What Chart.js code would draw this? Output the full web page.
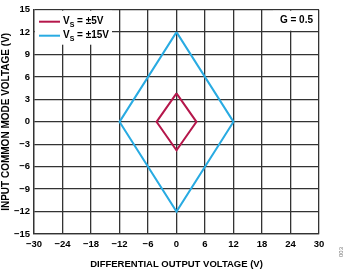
<!DOCTYPE html>
<html>
<head>
<meta charset="utf-8">
<script src="https://cdn.jsdelivr.net/npm/chart.js@4/dist/chart.umd.min.js"></script>
<style>
  body { margin: 0; background: #fff; }
  canvas { display: block; }
</style>
</head>
<body>
<canvas id="chart" width="346" height="270"></canvas>
<script>
// diamond corners, closed back to the first point
const vs5X = [0, 4.2, 0, -4.2, 0];
const vs5Y = [3.8, 0, -3.8, 0, 3.8];
const vs15X = [0, 12, 0, -12, 0];
const vs15Y = [12, 0, -12, 0, 12];
const xTicks = [-30, -24, -18, -12, -6, 0, 6, 12, 18, 24, 30];
const yTicks = [-15, -12, -9, -6, -3, 0, 3, 6, 9, 12, 15];

const font = "'Liberation Sans', Arial, sans-serif";
const fmt = (v) => (v < 0 ? "\u2212" + Math.abs(v) : String(v));
const toPoints = (xs, ys) => xs.map((x, i) => ({ x: x, y: ys[i] }));

const overlay = {
  id: "overlay",
  afterDraw(chart) {
    const ctx = chart.ctx;
    const a = chart.chartArea;
    ctx.save();
    // legend box
    ctx.fillStyle = "#fff";
    ctx.fillRect(a.left + 1, a.top + 1, 77, 34);
    const items = [
      { color: "#b5174b", sub: "S", rest: " = \u00b15V" },
      { color: "#29abe2", sub: "S", rest: " = \u00b115V" }
    ];
    items.forEach((it, i) => {
      const y = a.top + 12 + i * 14;
      ctx.strokeStyle = it.color;
      ctx.lineWidth = 2;
      ctx.beginPath();
      ctx.moveTo(a.left + 5, y);
      ctx.lineTo(a.left + 26, y);
      ctx.stroke();
      ctx.fillStyle = "#000";
      ctx.textBaseline = "middle";
      ctx.textAlign = "left";
      ctx.font = "bold 10px " + font;
      let x = a.left + 29;
      ctx.fillText("V", x, y);
      x += ctx.measureText("V").width;
      ctx.font = "bold 7px " + font;
      ctx.fillText(it.sub, x, y + 3);
      x += ctx.measureText(it.sub).width;
      ctx.font = "bold 10px " + font;
      ctx.fillText(it.rest, x, y);
    });
    // gain label
    ctx.fillStyle = "#fff";
    ctx.fillRect(a.right - 46, a.top + 1, 45, 20);
    ctx.fillStyle = "#000";
    ctx.font = "bold 10px " + font;
    ctx.textAlign = "right";
    ctx.fillText("G = 0.5", a.right - 6, a.top + 11);
    // figure number
    ctx.translate(341, 252);
    ctx.rotate(-Math.PI / 2);
    ctx.fillStyle = "#777";
    ctx.font = "6px " + font;
    ctx.textAlign = "center";
    ctx.fillText("003", 0, 0);
    ctx.restore();
  }
};

new Chart(document.getElementById("chart"), {
  type: "scatter",
  data: {
    datasets: [
      {
        label: "VS = ±5V",
        data: toPoints(vs5X, vs5Y),
        showLine: true,
        borderColor: "#b5174b",
        borderWidth: 2,
        pointRadius: 0,
        tension: 0
      },
      {
        label: "VS = ±15V",
        data: toPoints(vs15X, vs15Y),
        showLine: true,
        borderColor: "#29abe2",
        borderWidth: 2,
        pointRadius: 0,
        tension: 0
      }
    ]
  },
  options: {
    responsive: false,
    animation: false,
    layout: { padding: { top: 5, right: 27, left: 0, bottom: 0 } },
    plugins: { legend: { display: false }, tooltip: { enabled: false } },
    scales: {
      x: {
        min: -30,
        max: 30,
        afterBuildTicks: (s) => { s.ticks = xTicks.map((v) => ({ value: v })); },
        afterFit: (s) => { s.height = 36; },
        ticks: {
          callback: fmt,
          color: "#000",
          font: { family: font, size: 9.5, weight: "bold" },
          padding: 5,
          maxRotation: 0
        },
        grid: { color: "#333", lineWidth: 1.3, drawTicks: false },
        border: { color: "#333", width: 1.3 },
        title: {
          display: true,
          text: "DIFFERENTIAL OUTPUT VOLTAGE (V)",
          color: "#000",
          font: { family: font, size: 9.5, weight: "bold" },
          padding: { top: 5, bottom: 0 }
        }
      },
      y: {
        min: -15,
        max: 15,
        afterBuildTicks: (s) => { s.ticks = yTicks.map((v) => ({ value: v })); },
        afterFit: (s) => { s.width = 34; },
        ticks: {
          callback: fmt,
          color: "#000",
          font: { family: font, size: 9.5, weight: "bold" },
          padding: 4
        },
        grid: { color: "#333", lineWidth: 1.3, drawTicks: false },
        border: { color: "#333", width: 1.3 },
        title: {
          display: true,
          text: "INPUT COMMON MODE VOLTAGE (V)",
          color: "#000",
          font: { family: font, size: 10, weight: "bold" },
          padding: { top: 0, bottom: 2 }
        }
      }
    }
  },
  plugins: [overlay]
});
</script>
</body>
</html>
